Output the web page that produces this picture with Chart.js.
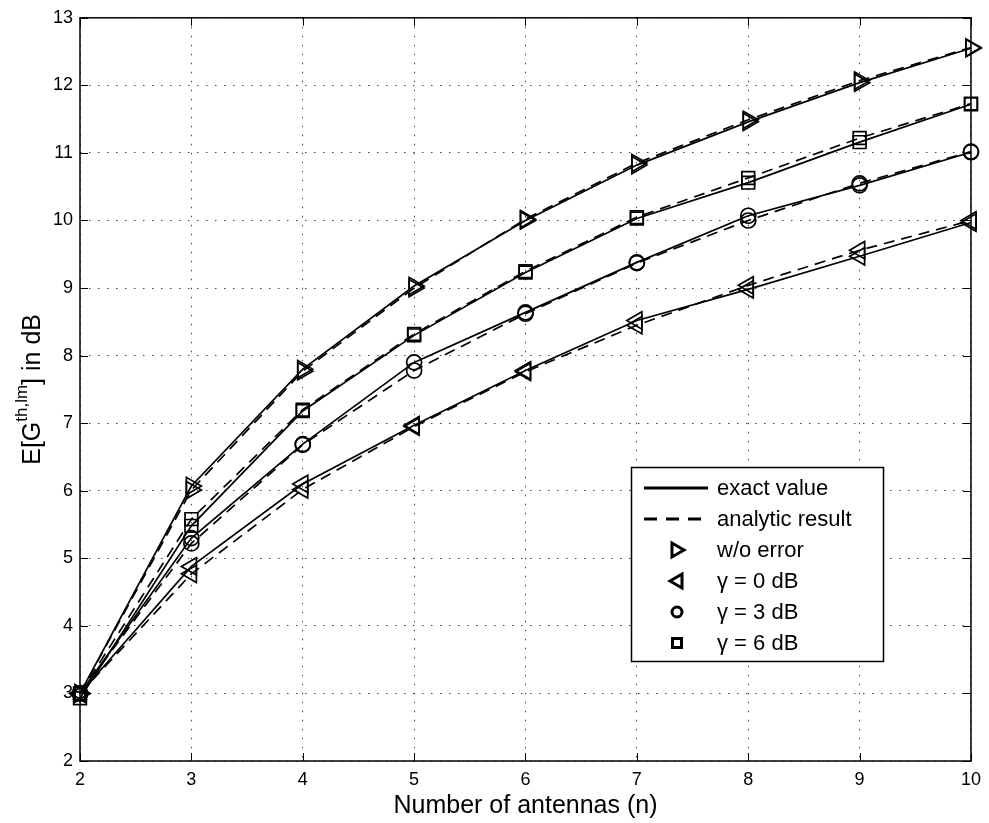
<!DOCTYPE html>
<html>
<head>
<meta charset="utf-8">
<script src="https://cdn.jsdelivr.net/npm/chart.js@4.4.0/dist/chart.umd.min.js"></script>
<style>
  html, body { margin: 0; padding: 0; background: #fff; }
  canvas { display: block; }
</style>
</head>
<body>
<canvas id="myChart" width="989" height="823"></canvas>
<script>
// number of antennas (x axis)
const antennas = [2, 3, 4, 5, 6, 7, 8, 9, 10];

// E[G] in dB
const exactNoError    = [3.00, 6.07, 7.80, 9.03, 10.00, 10.82, 11.46, 12.04, 12.55];
const analyticNoError = [3.00, 6.01, 7.77, 9.00, 10.02, 10.85, 11.49, 12.07, 12.56];
const exactGamma0     = [3.00, 4.88, 6.10, 6.97, 7.78, 8.52, 8.98, 9.47, 9.97];
const analyticGamma0  = [3.00, 4.77, 6.02, 6.95, 7.76, 8.45, 9.04, 9.56, 10.00];
const exactGamma3     = [3.00, 5.30, 6.69, 7.90, 8.64, 9.38, 10.07, 10.52, 11.01];
const analyticGamma3  = [3.00, 5.22, 6.68, 7.78, 8.62, 9.37, 10.00, 10.55, 11.02];
const exactGamma6     = [2.93, 5.48, 7.18, 8.30, 9.23, 10.03, 10.56, 11.16, 11.72];
const analyticGamma6  = [3.00, 5.58, 7.20, 8.32, 9.25, 10.05, 10.63, 11.22, 11.73];

const xTickValues = [2, 3, 4, 5, 6, 7, 8, 9, 10];
const yTickValues = [2, 3, 4, 5, 6, 7, 8, 9, 10, 11, 12, 13];

const legendLabels = ['exact value', 'analytic result', 'w/o error', 'γ = 0 dB', 'γ = 3 dB', 'γ = 6 dB'];

const FONT = '"Liberation Sans", Arial, Helvetica, sans-serif';
Chart.defaults.font.family = FONT;
Chart.defaults.color = '#000';

const markers = {
  right:  { pointStyle: 'triangle', rotation: 90,  pointRadius: 10 },
  left:   { pointStyle: 'triangle', rotation: 270, pointRadius: 10 },
  circle: { pointStyle: 'circle',   rotation: 0,   pointRadius: 7.5 },
  square: { pointStyle: 'rect',     rotation: 0,   pointRadius: 9 }
};

function makeSet(label, values, marker, dashed) {
  const m = markers[marker];
  return {
    label: label,
    data: antennas.map((n, i) => ({ x: n, y: values[i] })),
    borderColor: '#000',
    backgroundColor: 'rgba(0,0,0,0)',
    borderWidth: 1.7,
    borderDash: dashed ? [11, 7] : [],
    pointStyle: m.pointStyle,
    rotation: m.rotation,
    pointRadius: m.pointRadius,
    pointHoverRadius: m.pointRadius,
    pointBorderWidth: 1.7,
    pointBorderColor: '#000',
    pointBackgroundColor: 'rgba(0,0,0,0)',
    tension: 0,
    fill: false,
    clip: false
  };
}

const datasets = [
  makeSet('w/o error (exact)', exactNoError, 'right', false),
  makeSet('w/o error (analytic)', analyticNoError, 'right', true),
  makeSet('γ = 6 dB (exact)', exactGamma6, 'square', false),
  makeSet('γ = 6 dB (analytic)', analyticGamma6, 'square', true),
  makeSet('γ = 3 dB (exact)', exactGamma3, 'circle', false),
  makeSet('γ = 3 dB (analytic)', analyticGamma3, 'circle', true),
  makeSet('γ = 0 dB (exact)', exactGamma0, 'left', false),
  makeSet('γ = 0 dB (analytic)', analyticGamma0, 'left', true)
];

function drawMarker(ctx, kind, x, y) {
  ctx.beginPath();
  if (kind === 'right') {
    ctx.moveTo(x + 7, y);
    ctx.lineTo(x - 5, y - 7);
    ctx.lineTo(x - 5, y + 7);
    ctx.closePath();
  } else if (kind === 'left') {
    ctx.moveTo(x - 7, y);
    ctx.lineTo(x + 5, y - 7);
    ctx.lineTo(x + 5, y + 7);
    ctx.closePath();
  } else if (kind === 'circle') {
    ctx.arc(x, y, 5, 0, Math.PI * 2);
  } else {
    ctx.rect(x - 4.5, y - 4.5, 9, 9);
  }
  ctx.stroke();
}

// axes box, inward ticks, legend and y title
const decorations = {
  id: 'decorations',
  afterDraw(chart) {
    const ctx = chart.ctx;
    const a = chart.chartArea;
    const xs = chart.scales.x, ys = chart.scales.y;
    ctx.save();
    ctx.strokeStyle = '#000';
    ctx.lineWidth = 1.5;
    ctx.setLineDash([]);
    ctx.strokeRect(a.left, a.top, a.right - a.left, a.bottom - a.top);

    ctx.lineWidth = 1;
    ctx.beginPath();
    xTickValues.forEach(v => {
      const px = Math.round(xs.getPixelForValue(v)) + 0.5;
      ctx.moveTo(px, a.bottom); ctx.lineTo(px, a.bottom - 8);
      ctx.moveTo(px, a.top); ctx.lineTo(px, a.top + 8);
    });
    yTickValues.forEach(v => {
      const py = Math.round(ys.getPixelForValue(v)) + 0.5;
      ctx.moveTo(a.left, py); ctx.lineTo(a.left + 8, py);
      ctx.moveTo(a.right, py); ctx.lineTo(a.right - 8, py);
    });
    ctx.stroke();

    // legend
    const lx = 631, ly = 467, lw = 252, lh = 194;
    ctx.fillStyle = '#fff';
    ctx.fillRect(lx, ly, lw, lh);
    ctx.lineWidth = 1.5;
    ctx.strokeRect(lx + 0.5, ly + 0.5, lw, lh);
    ctx.font = '22px ' + FONT;
    ctx.fillStyle = '#000';
    ctx.textBaseline = 'middle';
    ctx.textAlign = 'left';
    const kinds = [null, null, 'right', 'left', 'circle', 'square'];
    legendLabels.forEach((txt, i) => {
      const cy = ly + 21 + i * 31;
      ctx.lineWidth = 3;
      if (i === 0) {
        ctx.setLineDash([]);
        ctx.beginPath(); ctx.moveTo(644, cy); ctx.lineTo(708, cy); ctx.stroke();
      } else if (i === 1) {
        ctx.setLineDash([13, 9]);
        ctx.beginPath(); ctx.moveTo(644, cy); ctx.lineTo(708, cy); ctx.stroke();
        ctx.setLineDash([]);
      } else {
        drawMarker(ctx, kinds[i], 677, cy);
      }
      ctx.fillText(txt, 717, cy + 1);
    });

    // y axis title with superscript
    const big = '25px ' + FONT, small = '17px ' + FONT;
    const p1 = 'E[G', sup = 'th,lm', p2 = '] in dB';
    ctx.font = big;
    const w1 = ctx.measureText(p1).width, w3 = ctx.measureText(p2).width;
    ctx.font = small;
    const w2 = ctx.measureText(sup).width;
    const total = w1 + w2 + w3;
    ctx.translate(31, (a.top + a.bottom) / 2);
    ctx.rotate(-Math.PI / 2);
    ctx.textBaseline = 'alphabetic';
    let cx = -total / 2;
    ctx.font = big;
    ctx.fillText(p1, cx, 9);
    cx += w1;
    ctx.font = small;
    ctx.fillText(sup, cx, -4);
    cx += w2;
    ctx.font = big;
    ctx.fillText(p2, cx, 9);
    ctx.restore();
  }
};

const config = {
  type: 'line',
  data: { datasets: datasets },
  options: {
    responsive: false,
    animation: false,
    devicePixelRatio: 1,
    layout: { padding: { left: 0, right: 16, top: 13, bottom: 0 } },
    plugins: {
      legend: { display: false },
      tooltip: { enabled: false }
    },
    scales: {
      x: {
        type: 'linear',
        min: 2,
        max: 10,
        afterBuildTicks: (scale) => { scale.ticks = xTickValues.map(v => ({ value: v })); },
        afterFit: (scale) => { scale.height = 62; },
        ticks: { font: { size: 18 }, color: '#000', padding: 8, maxRotation: 0 },
        grid: { color: '#444', lineWidth: 1, drawTicks: false },
        border: { display: false, dash: [1.5, 7.5] },
        title: {
          display: true,
          text: 'Number of antennas (n)',
          font: { size: 25 },
          color: '#000',
          padding: { top: 0, bottom: 2 }
        }
      },
      y: {
        type: 'linear',
        min: 2,
        max: 13,
        afterBuildTicks: (scale) => { scale.ticks = yTickValues.map(v => ({ value: v })); },
        afterFit: (scale) => { scale.width = 80; },
        ticks: { font: { size: 18 }, color: '#000', padding: 7 },
        grid: { color: '#444', lineWidth: 1, drawTicks: false },
        border: { display: false, dash: [1.5, 7.5] }
      }
    }
  },
  plugins: [decorations]
};

const myChart = new Chart(document.getElementById('myChart'), config);
</script>
</body>
</html>
